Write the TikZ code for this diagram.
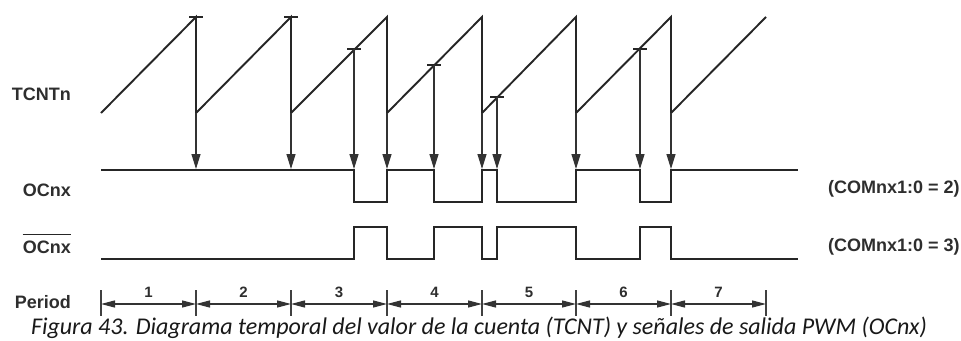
\documentclass[tikz,border=0pt]{standalone}
\usepackage{fontspec}
\setmainfont{Liberation Sans}
\newfontfamily\capfont{Carlito}
\usetikzlibrary{arrows.meta,calc}
\begin{document}
\begin{tikzpicture}[x=1pt,y=-1pt,
  saw/.style={line width=1.9pt, draw=black!85, line join=miter},
  wave/.style={line width=1.9pt, draw=black!85, line join=miter},
  trig/.style={line width=1.2pt, draw=black!80, -{Triangle[length=15pt,width=9pt]}},
  cmpmark/.style={line width=1.8pt, draw=black!85},
  tickmark/.style={line width=1.3pt, draw=black!75},
  parr/.style={line width=1.3pt, draw=black!80, {Triangle[length=14pt,width=7pt]}-{Triangle[length=14pt,width=7pt]}},
  lbl/.style={font=\bfseries\fontsize{18}{18}\selectfont, text=black!82, inner sep=0pt},
  num/.style={font=\bfseries\fontsize{15}{15}\selectfont, text=black!82, inner sep=0pt},
  captext/.style={font=\capfont\itshape\fontsize{24}{24}\selectfont, text=black!90, inner sep=0pt}
]
\useasboundingbox (0,0) rectangle (961,340);
\fill[white] (0,0) rectangle (961,340);

% labels
\node[lbl, anchor=east] (tcnt) at (71,94) {TCNTn};
\node[lbl, anchor=east] (ocnx) at (71,190) {OCnx};
\node[lbl, anchor=east] (ocbar) at (71,247) {OCnx};
\draw[line width=1.4pt, draw=black!85] ([yshift=6pt]ocbar.north west) -- ([yshift=6pt]ocbar.north east);
\node[lbl, anchor=east] (period) at (71,302) {Period};
\node[lbl, anchor=west] (com2) at (828,189) {(COMnx1:0 = 2)};
\node[lbl, anchor=west] (com3) at (828,247) {(COMnx1:0 = 3)};

% sawtooth
\draw[saw] (101,113) -- (196,17) -- (196,113) -- (291,17) -- (291,113) -- (387,17) -- (387,113)
  -- (482,17) -- (482,113) -- (576,17) -- (576,113) -- (671,17) -- (671,113) -- (766,17);

% compare marks
\foreach \x/\y in {196/17, 291/17, 354/49, 434/65, 497/97, 640/49}
  \draw[cmpmark] (\x-7,\y) -- (\x+7,\y);

% trigger arrows
\foreach \i/\x/\y in {1/196/113, 2/291/113, 3/354/49, 4/387/113, 5/434/65, 6/482/113, 7/497/97, 8/576/113, 9/640/49, 10/671/113} {
  \coordinate (t\i) at (\x,\y);
  \coordinate (b\i) at (\x,169);
  \draw[trig] (t\i) -- (b\i);
}

% OCnx waveform
\draw[wave] (101,170) -- (354,170) -- (354,202) -- (387,202) -- (387,170) -- (434,170) -- (434,202)
  -- (482,202) -- (482,170) -- (497,170) -- (497,202) -- (576,202) -- (576,170) -- (640,170)
  -- (640,202) -- (671,202) -- (671,170) -- (798,170);

% OCnx bar waveform
\draw[wave] (101,259) -- (354,259) -- (354,227) -- (387,227) -- (387,259) -- (434,259) -- (434,227)
  -- (482,227) -- (482,259) -- (497,259) -- (497,227) -- (576,227) -- (576,259) -- (640,259)
  -- (640,227) -- (671,227) -- (671,259) -- (798,259);

% period
\foreach \i/\x in {0/101,1/196,2/291,3/387,4/482,5/576,6/671,7/766} {
  \coordinate (p\i) at (\x,304);
  \draw[tickmark] (\x,290) -- (\x,316);
}
\foreach \a/\b/\n in {0/1/1,1/2/2,2/3/3,3/4/4,4/5/5,5/6/6,6/7/7} {
  \draw[parr] (p\a) -- (p\b);
  \node[num] (n\n) at ($(p\a)!0.5!(p\b)+(0,-12)$) {\n};
}

% caption
\node[captext, anchor=base] (caption) at (479,334) {Figura 43. Diagrama temporal del valor de la cuenta (TCNT) y señales de salida PWM (OCnx)};
\end{tikzpicture}
\end{document}
